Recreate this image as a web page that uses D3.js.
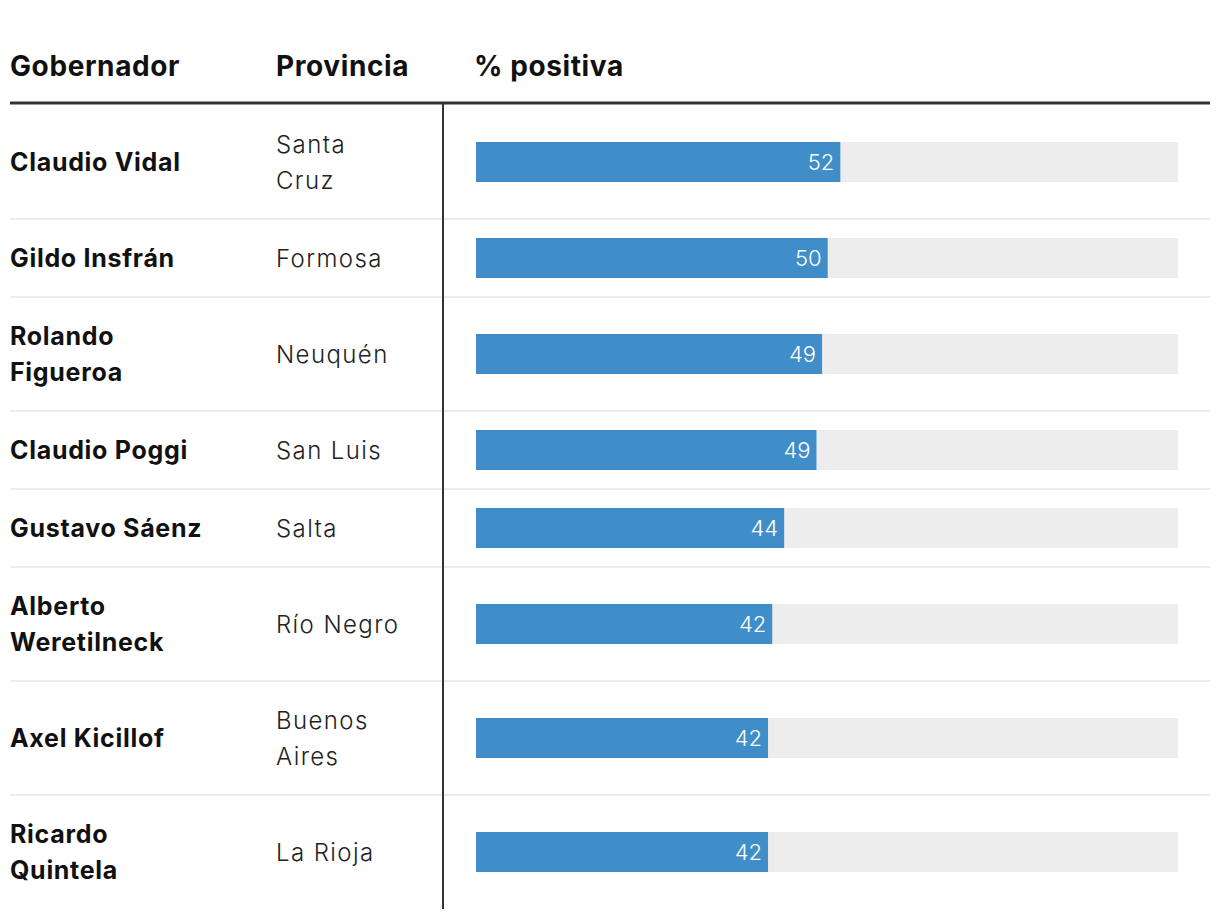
<!DOCTYPE html>
<html><head><meta charset="utf-8">
<script src="https://cdn.jsdelivr.net/npm/d3@7"></script>
<style>
html,body{margin:0;padding:0;background:#fff;}
svg{display:block;font-family:Inter, Roboto, "Noto Sans", sans-serif;}
</style></head>
<body><svg id="chart" width="1220" height="918"></svg>
<script>
const headers = ["Gobernador", "Provincia", "% positiva"];
const governors = ["Claudio Vidal", "Gildo Insfrán", "Rolando\nFigueroa", "Claudio Poggi", "Gustavo Sáenz", "Alberto\nWeretilneck", "Axel Kicillof", "Ricardo\nQuintela"];
const provinces = ["Santa\nCruz", "Formosa", "Neuquén", "San Luis", "Salta", "Río Negro", "Buenos\nAires", "La Rioja"];
const positive = [51.9, 50.1, 49.3, 48.5, 43.9, 42.2, 41.6, 41.6];
const domainMax = 100;

const svg = d3.select("#chart");
const rows = governors.map((g, i) => {
  const gl = g.split("\n"), pl = provinces[i].split("\n");
  return {gov: gl, prov: pl, value: positive[i], lines: Math.max(gl.length, pl.length)};
});
const lineH = 36;
let y0 = 105;
rows.forEach(r => { r.h = 42 + lineH * r.lines; r.y = y0; y0 += r.h; });

const colName = 10, colProv = 276, colBar = 476, barEnd = 1178, rightEdge = 1210;
const x = d3.scaleLinear().domain([0, domainMax]).range([colBar, barEnd]);

// headers
const hx = [colName, colProv, 474];
svg.selectAll("text.hdr").data(headers).join("text")
  .attr("class", "hdr").attr("x", (d, i) => hx[i]).attr("y", 76)
  .attr("font-size", 28).attr("font-weight", 700).attr("fill", "#111")
  .attr("letter-spacing", 0.6)
  .text(d => d);

// row separators
svg.selectAll("line.sep").data(rows.slice(1)).join("line")
  .attr("x1", colName).attr("x2", rightEdge)
  .attr("y1", d => d.y).attr("y2", d => d.y)
  .attr("stroke", "#ececec").attr("stroke-width", 2);

const g = svg.selectAll("g.row").data(rows).join("g").attr("class", "row")
  .attr("transform", d => `translate(0,${d.y + d.h / 2})`);

function addLines(sel, key, xPos, weight, size, fill, ls) {
  sel.append("text").attr("x", xPos).attr("font-size", size).attr("font-weight", weight).attr("fill", fill)
    .attr("letter-spacing", ls)
    .each(function (d) {
      const arr = d[key], n = arr.length;
      d3.select(this).selectAll("tspan").data(arr).join("tspan")
        .attr("x", xPos)
        .attr("y", (t, j) => (j - (n - 1) / 2) * lineH + 8.5)
        .text(t => t);
    });
}
addLines(g, "gov", colName, 700, 25, "#111", 0.7);
addLines(g, "prov", colProv, 300, 24, "#222", 1.4);

g.append("rect").attr("x", x(0)).attr("y", -20).attr("height", 40)
  .attr("width", x(domainMax) - x(0)).attr("fill", "#ededed");
g.append("rect").attr("x", x(0)).attr("y", -20).attr("height", 40)
  .attr("width", d => x(d.value) - x(0)).attr("fill", "#408ec9");
g.append("text").attr("x", d => x(d.value) - 6).attr("y", 8)
  .attr("text-anchor", "end").attr("font-size", 22).attr("font-weight", 300).attr("fill", "#fff")
  .text(d => Math.round(d.value));

// header rule and vertical divider
svg.append("line").attr("x1", colName).attr("x2", rightEdge).attr("y1", 103).attr("y2", 103)
  .attr("stroke", "#333").attr("stroke-width", 3);
svg.append("line").attr("x1", 443).attr("x2", 443).attr("y1", 104).attr("y2", y0)
  .attr("stroke", "#333").attr("stroke-width", 2);
</script></body></html>
